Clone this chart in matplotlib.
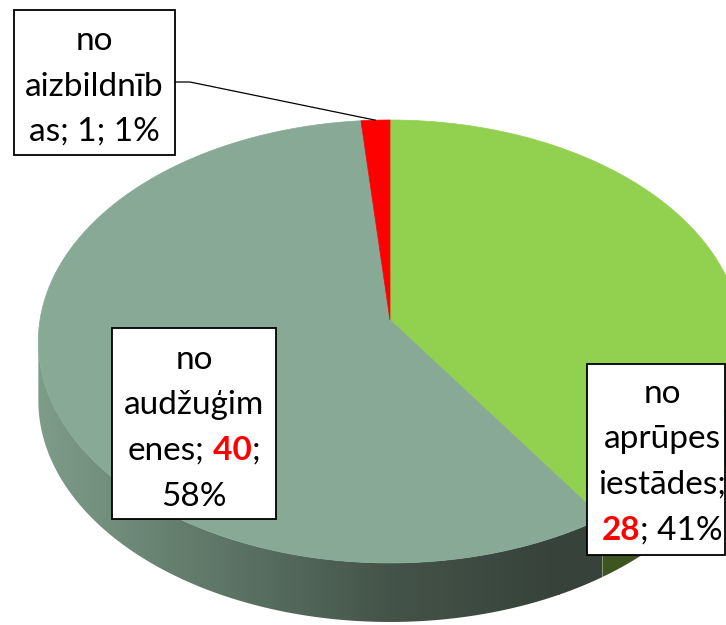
import numpy as np
import matplotlib.pyplot as plt
from matplotlib.patches import Polygon, Rectangle
from matplotlib.colors import LinearSegmentedColormap

plt.rcParams['font.family'] = ['Lato', 'DejaVu Sans']

# dati
names = ['no aprūpes iestādes', 'no audžuģimenes', 'no aizbildnības']
values = [28, 40, 1]
percents = ['41%', '58%', '1%']
top_colors = ['#92D050', '#87A996', '#FF0000']
side_colors = ['#3E5522', None, '#B00000']   # None -> gradient
gray_side_stops = ['#7E9C8A', '#5F7868', '#45544A', '#36423A']

# label texts, line by line: (text, color, weight)
R = '#FF0000'
lbl_lines = [
    [[('no', 'k', 'normal')],
     [('aprūpes', 'k', 'normal')],
     [('iestādes;', 'k', 'normal')],
     [('28', R, 'bold'), ('; 41%', 'k', 'normal')]],
    [[('no', 'k', 'normal')],
     [('audžuģim', 'k', 'normal')],
     [('enes;', 'k', 'normal'), (' 40', R, 'bold'), (';', 'k', 'normal')],
     [('58%', 'k', 'normal')]],
    [[('no', 'k', 'normal')],
     [('aizbildnīb', 'k', 'normal')],
     [('as; 1; 1%', 'k', 'normal')]],
]
# box rectangles (x, y, w, h), text centre x, first baseline
boxes = [(587, 364, 138, 191, 662, 403),
         (112, 328, 164, 191, 194, 369),
         (14, 10, 161, 145, 94, 50)]
fs = 24
pitch = 45.5

W, H = 726, 625
fig = plt.figure(figsize=(W/100, H/100), dpi=100)
ax = fig.add_axes([0, 0, 1, 1])
ax.set_xlim(0, W)
ax.set_ylim(H, 0)
ax.axis('off')

# perspective disc
cx, cy = 390, 320
rx, ry = 350, 219.4
k = 0.097
depth = 59

def proj(th, dy=0.0):
    u, v = np.cos(th), np.sin(th)
    w = 1 + k*v
    return cx + rx*u/w, cy - ry*v/w + dy

total = sum(values)
bounds = 90 - 360*np.concatenate([[0], np.cumsum(values)])/total
vis_lo = -180 + np.degrees(np.arcsin(k))
vis_hi = -np.degrees(np.arcsin(k))

# side walls
for i in range(len(values)):
    hi, lo = bounds[i], bounds[i+1]
    for shift in (0, 360, -360):
        a, b = max(lo + shift, vis_lo), min(hi + shift, vis_hi)
        if a >= b:
            continue
        th = np.radians(np.linspace(a, b, 200))
        xt, yt = proj(th)
        xb, yb = proj(th[::-1], depth)
        pts = np.column_stack([np.r_[xt, xb], np.r_[yt, yb]])
        if side_colors[i] is None:
            poly = Polygon(pts, closed=True, facecolor='none', edgecolor='none')
            ax.add_patch(poly)
            cmap = LinearSegmentedColormap.from_list('side', gray_side_stops)
            x0, x1 = pts[:, 0].min(), 560
            grad = np.linspace(0, 1, 256).reshape(1, -1)
            im = ax.imshow(grad, cmap=cmap, aspect='auto',
                           extent=(x0, x1, pts[:, 1].max(), pts[:, 1].min()),
                           zorder=1)
            im.set_clip_path(poly)
            # beyond the gradient end
            ax.add_patch(Rectangle((x1 - 1, pts[:, 1].min()), pts[:, 0].max() - x1 + 1,
                                   pts[:, 1].max() - pts[:, 1].min(),
                                   facecolor=gray_side_stops[-1], edgecolor='none',
                                   clip_path=poly, zorder=1))
        else:
            ax.add_patch(Polygon(pts, closed=True, facecolor=side_colors[i],
                                 edgecolor='none', zorder=1))

# top face
for i in range(len(values)):
    hi, lo = bounds[i], bounds[i+1]
    th = np.radians(np.linspace(hi, lo, 300))
    xs, ys = proj(th)
    pts = np.column_stack([np.r_[cx, xs], np.r_[cy, ys]])
    ax.add_patch(Polygon(pts, closed=True, facecolor=top_colors[i],
                         edgecolor=top_colors[i], lw=0.5, zorder=2))

# leader line for the small slice
mid = np.radians((bounds[2] + bounds[3])/2)
ex, ey = proj(mid)
ax.plot([175, 190, ex], [82, 82, ey], color='k', lw=0.9, zorder=3)

# labels
renderer = fig.canvas.get_renderer()
for lines, (bx, by, bw, bh, tx, ty) in zip(lbl_lines, boxes):
    ax.add_patch(Rectangle((bx, by), bw, bh, facecolor='white', edgecolor='black',
                           lw=1.3, zorder=4))
    for j, parts in enumerate(lines):
        yy = ty + j*pitch
        texts = [ax.text(0, yy, s, color=c, fontweight=wt, fontsize=fs,
                         ha='left', va='baseline', zorder=5)
                 for s, c, wt in parts]
        widths = [t.get_window_extent(renderer).width for t in texts]
        x0 = tx - sum(widths)/2
        for t, w in zip(texts, widths):
            t.set_x(x0)
            x0 += w

plt.savefig('out.png', dpi=100)
